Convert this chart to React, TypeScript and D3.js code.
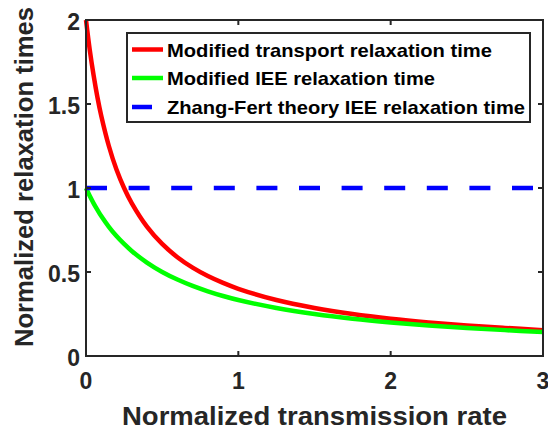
import React from "react";
import * as d3 from "d3";

const xValues = [0, 0.025, 0.05, 0.075, 0.1, 0.15, 0.2, 0.25, 0.3, 0.4, 0.5, 0.6, 0.7, 0.8, 0.9, 1, 1.25, 1.5, 1.75, 2, 2.25, 2.5, 2.75, 3];
const transportValues = [2, 1.82, 1.67, 1.54, 1.43, 1.25, 1.11, 1.0, 0.91, 0.77, 0.667, 0.588, 0.526, 0.476, 0.435, 0.4, 0.333, 0.286, 0.25, 0.222, 0.2, 0.182, 0.167, 0.154];
const ieeValues = [1, 0.952, 0.909, 0.87, 0.833, 0.769, 0.714, 0.667, 0.625, 0.556, 0.5, 0.455, 0.417, 0.385, 0.357, 0.333, 0.286, 0.25, 0.222, 0.2, 0.182, 0.167, 0.154, 0.143];
const zhangFertValue = 1;
const xTicks = [0, 1, 2, 3];
const yTicks = [0, 0.5, 1, 1.5, 2];
const yTickLabels = ["0", "0.5", "1", "1.5", "2"];
const legendLabels = [
  "Modified transport relaxation time",
  "Modified IEE relaxation time",
  "Zhang-Fert theory IEE relaxation time",
];
const legendWidths = [325, 268, 358];

const W = 548;
const H = 435;
const L = 86, R = 543, T = 20, B = 356;
const AX = "#262626";
const FONT = "Arial, 'Liberation Sans', Helvetica, sans-serif";

export default function App() {
  const x = d3.scaleLinear().domain([0, 3]).range([L, R]);
  const y = d3.scaleLinear().domain([0, 2]).range([B, T]);
  const line = d3
    .line<[number, number]>()
    .x((d) => x(d[0]))
    .y((d) => y(d[1]))
    .curve(d3.curveCatmullRom.alpha(0.5));
  const red = line(xValues.map((v, i) => [v, transportValues[i]]) as [number, number][]) || "";
  const green = line(ieeValues.map((v, i) => [xValues[i], v]) as [number, number][]) || "";
  const tick = 5;
  const legendColors = ["#ff0000", "#00ff00", "#0000ff"];
  const legendY = [49.5, 78, 107];

  return (
    <svg width={W} height={H} style={{ position: "absolute", left: 0, top: 0, background: "#fff" }}>
      <rect x={0} y={0} width={W} height={H} fill="#fff" />
      <path d={red} fill="none" stroke="#ff0000" strokeWidth={4.5} />
      <path d={green} fill="none" stroke="#00ff00" strokeWidth={4.5} />
      <line x1={x(0)} x2={x(3)} y1={y(zhangFertValue)} y2={y(zhangFertValue)} stroke="#0000ff" strokeWidth={4.5} strokeDasharray="21 21.6" />
      <rect x={L} y={T} width={R - L} height={B - T} fill="none" stroke={AX} strokeWidth={2} />
      {xTicks.map((t) => (
        <g key={"xt" + t}>
          <line x1={x(t)} x2={x(t)} y1={B} y2={B - tick} stroke={AX} strokeWidth={2} />
          <line x1={x(t)} x2={x(t)} y1={T} y2={T + tick} stroke={AX} strokeWidth={2} />
          <text x={x(t)} y={389} textAnchor="middle" fontFamily={FONT} fontWeight="bold" fontSize={23} fill={AX}>
            {t}
          </text>
        </g>
      ))}
      {yTicks.map((t, i) => (
        <g key={"yt" + t}>
          <line x1={L} x2={L + tick} y1={y(t)} y2={y(t)} stroke={AX} strokeWidth={2} />
          <line x1={R} x2={R - tick} y1={y(t)} y2={y(t)} stroke={AX} strokeWidth={2} />
          <text x={L - 6} y={y(t) + 10} textAnchor="end" fontFamily={FONT} fontWeight="bold" fontSize={23} fill={AX}>
            {yTickLabels[i]}
          </text>
        </g>
      ))}
      <text x={314.5} y={425} textAnchor="middle" fontFamily={FONT} fontWeight="bold" fontSize={25} fill={AX} textLength={385} lengthAdjust="spacingAndGlyphs">
        Normalized transmission rate
      </text>
      <text
        transform={`translate(33, 177) rotate(-90)`}
        textAnchor="middle"
        fontFamily={FONT}
        fontWeight="bold"
        fontSize={25}
        fill={AX}
        textLength={340}
        lengthAdjust="spacingAndGlyphs"
      >
        Normalized relaxation times
      </text>
      <rect x={127} y={33} width={403} height={89} fill="#fff" stroke={AX} strokeWidth={2} />
      {legendLabels.map((lab, i) => (
        <g key={lab}>
          {i < 2 ? (
            <line x1={132} x2={163} y1={legendY[i]} y2={legendY[i]} stroke={legendColors[i]} strokeWidth={4.5} />
          ) : (
            <line x1={132} x2={152} y1={legendY[i]} y2={legendY[i]} stroke={legendColors[i]} strokeWidth={4.5} />
          )}
          <text x={167} y={legendY[i] + 7} fontFamily={FONT} fontWeight="bold" fontSize={19} fill="#000" textLength={legendWidths[i]} lengthAdjust="spacingAndGlyphs">
            {lab}
          </text>
        </g>
      ))}
    </svg>
  );
}
